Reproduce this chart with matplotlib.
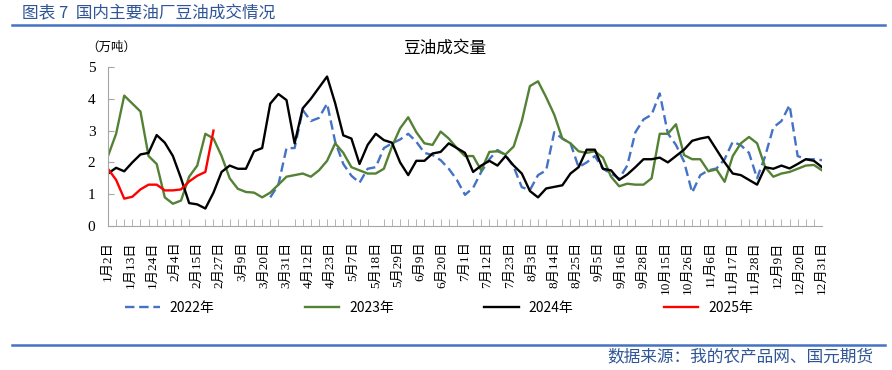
import numpy as np
import matplotlib.pyplot as plt
from matplotlib.lines import Line2D

plt.rcParams['font.family'] = ['Noto Sans CJK SC', 'DejaVu Sans']
nan = np.nan

# category axis: trading days, label every 11, sample/tick every 4
date_labels = ["1月2日", "1月13日", "1月24日", "2月4日", "2月15日", "2月27日", "3月9日",
               "3月20日", "3月31日", "4月12日", "4月23日", "5月7日", "5月18日", "5月29日",
               "6月9日", "6月20日", "7月1日", "7月12日", "7月23日", "8月3日", "8月14日",
               "8月25日", "9月5日", "9月16日", "9月28日", "10月15日", "10月26日", "11月6日",
               "11月17日", "11月28日", "12月9日", "12月20日", "12月31日"]

vol_2022 = [nan] * 20 + [
    0.9, 1.3, 2.45, 2.45, 3.65, 3.3, 3.4, 3.85, 2.65, 1.95,
    1.58, 1.36, 1.8, 1.85, 2.45, 2.6, 2.72, 2.9, 2.65, 2.3, 2.23, 2.07, 1.8, 1.45, 0.98,
    1.2, 1.7, 2.1, 2.39, 2.23, 1.86, 1.22, 1.13, 1.6, 1.75, 2.95, 2.75, 2.6, 1.85, 2.0,
    2.2, 1.8, 1.65, 1.49, 1.9, 2.95, 3.35, 3.5, 4.17, 2.91, 2.55, 2.02, 1.05, 1.6,
    1.75, 1.81, 2.1, 2.65, 2.54, 2.3, 1.5, 2.2, 3.1, 3.3, 3.8, 2.2, 2.1, 2.1, 2.07]

vol_2023 = [
    2.2, 2.9, 4.1, 3.85, 3.6, 2.2, 1.95, 0.9, 0.7, 0.8, 1.55, 1.9, 2.9, 2.75, 2.2,
    1.5, 1.17, 1.07, 1.05, 0.9, 1.05, 1.3, 1.55, 1.6, 1.65, 1.55, 1.75, 2.05, 2.6, 2.3,
    1.85, 1.75, 1.65, 1.65, 1.8, 2.5, 3.07, 3.42, 2.95, 2.6, 2.55, 2.97, 2.75, 2.45, 2.2,
    2.2, 1.75, 2.33, 2.35, 2.25, 2.5, 3.3, 4.4, 4.55, 4.05, 3.5, 2.75, 2.6, 2.35, 2.3,
    2.35, 2.15, 1.55, 1.25, 1.33, 1.3, 1.3, 1.5, 2.9, 2.9, 3.2, 2.23, 2.1, 2.1,
    1.72, 1.78, 1.39, 2.2, 2.6, 2.8, 2.6, 1.85, 1.55, 1.65, 1.7, 1.8, 1.9, 1.92, 1.75]

vol_2024 = [
    1.65, 1.83, 1.72, 2.0, 2.25, 2.3, 2.86, 2.62, 2.2, 1.5, 0.72, 0.68, 0.55, 1.05, 1.7,
    1.9, 1.8, 1.8, 2.35, 2.45, 3.85, 4.15, 3.96, 2.6, 3.7, 4.0, 4.35, 4.7, 3.86, 2.85,
    2.75, 1.95, 2.55, 2.9, 2.7, 2.62, 2.0, 1.6, 2.05, 2.05, 2.28, 2.33, 2.6, 2.45, 2.3,
    1.7, 1.9, 2.05, 1.9, 2.2, 1.9, 1.65, 1.1, 0.9, 1.18, 1.23, 1.28, 1.65, 1.85, 2.4,
    2.4, 1.8, 1.75, 1.45, 1.62, 1.85, 2.1, 2.1, 2.15, 2.0, 2.2, 2.4, 2.68, 2.75,
    2.8, 2.4, 2.0, 1.65, 1.6, 1.45, 1.3, 1.85, 1.8, 1.9, 1.81, 1.95, 2.1, 2.05, 1.85]

vol_2025 = [1.8, 1.45, 0.86, 0.92, 1.15, 1.3, 1.3, 1.12, 1.12, 1.15, 1.4, 1.58, 1.7, 3.0] + [nan] * 75

x = np.arange(len(vol_2023)) * 4

fig = plt.figure(figsize=(8.92, 3.70), dpi=100)
ax = fig.add_axes([108 / 892, 1 - 226 / 370, 714 / 892, 159 / 370])

ax.plot(x, vol_2022, color="#4472C4", lw=1.7, ls=(0, (4, 2)), label="2022年")
ax.plot(x, vol_2023, color="#548235", lw=1.7, label="2023年")
ax.plot(x, vol_2024, color="black", lw=1.7, label="2024年")
ax.plot(x, vol_2025, color="#FF0000", lw=1.7, label="2025年")

ax.set_xlim(0, 352)
ax.set_ylim(0, 5)
for side in ["top", "right"]:
    ax.spines[side].set_visible(False)
for side in ["left", "bottom"]:
    ax.spines[side].set_color("#A6A6A6")

ax.set_yticks(range(6))
ax.set_yticklabels([str(i) for i in range(6)], fontfamily="Liberation Serif", fontsize=11)
ax.tick_params(axis="y", direction="in", length=4, color="#A6A6A6", pad=9)

ax.set_xticks(np.arange(0, 353, 11))
ax.set_xticklabels(date_labels, rotation=90, fontsize=9.5,
                   fontfamily=["Liberation Serif", "Noto Sans CJK SC"])
ax.tick_params(axis="x", which="major", length=0, pad=11)
ax.set_xticks(np.arange(0, 353, 4), minor=True)
ax.tick_params(axis="x", which="minor", direction="in", length=5, color="#A6A6A6")

fig.text(445 / 892, 1 - 48 / 370, "豆油成交量", ha="center", va="center", fontsize=12)
fig.text(111 / 892, 1 - 47 / 370, "（万吨）", ha="center", va="center", fontsize=9)

fig.legend(loc="center", bbox_to_anchor=(439 / 892, 1 - 308 / 370), ncol=4, frameon=False,
           fontsize=10, handlelength=2.5, columnspacing=6.5, handletextpad=0.7)

fig.text(22 / 892, 1 - 14 / 370, "图表 7  国内主要油厂豆油成交情况", ha="left", va="center",
         fontsize=12, color="#2F5597")
fig.add_artist(Line2D([12 / 892, 885 / 892], [1 - 25 / 370] * 2, color="#4472C4", lw=1.8))
fig.add_artist(Line2D([12 / 892, 885 / 892], [1 - 345 / 370] * 2, color="#4472C4", lw=1.8))
fig.text(873 / 892, 1 - 357 / 370, "数据来源：我的农产品网、国元期货", ha="right", va="center",
         fontsize=12, color="#2F5597")

fig.savefig("out.png", dpi=100)
